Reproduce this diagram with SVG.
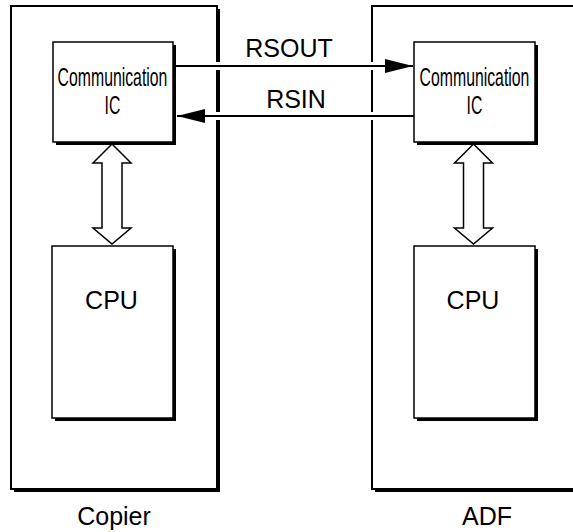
<svg xmlns="http://www.w3.org/2000/svg" width="573" height="532" viewBox="0 0 573 532">
  <style>
    .box { fill: #ffffff; stroke: #000000; stroke-width: 1.5; }
    .outer { fill: #ffffff; stroke: #000000; stroke-width: 2; }
    .shadow { fill: #000000; stroke: none; }
    .lbl { font-family: "Liberation Sans", Arial, sans-serif; fill: #000000; text-anchor: middle; }
    .big { font-size: 25px; }
    .narrow { font-size: 25.5px; }
    .dbl { fill: #ffffff; stroke: #000000; stroke-width: 1.5; stroke-linejoin: miter; }
    .wire { stroke: #000000; stroke-width: 2; fill: none; }
    .halo { stroke: #ffffff; stroke-width: 8; fill: none; }
  </style>
  <defs>
    <marker id="ah" viewBox="0 0 28 14" refX="28" refY="7" markerWidth="28" markerHeight="14" markerUnits="userSpaceOnUse" orient="auto">
      <path d="M0,0 L28,7 L0,14 Z" fill="#000000"/>
    </marker>
  </defs>

  <g id="copier">
    <rect class="shadow" x="14" y="9" width="206" height="483"/>
    <rect class="outer" x="11" y="6" width="206" height="483"/>
    <text class="lbl big" x="114" y="525">Copier</text>
  </g>
  <g id="adf">
    <rect class="shadow" x="375" y="9" width="230" height="483"/>
    <rect class="outer" x="372" y="6" width="230" height="483"/>
    <text class="lbl big" x="487" y="525">ADF</text>
  </g>

  <g id="copier-comm">
    <rect class="shadow" x="56" y="45" width="120" height="100"/>
    <rect class="box" x="53" y="42" width="120" height="100"/>
    <g transform="translate(112.5,0) scale(0.62,1)">
      <text class="lbl narrow" x="0" y="86">Communication</text>
      <text class="lbl narrow" x="0" y="114">IC</text>
    </g>
  </g>
  <g id="copier-cpu">
    <rect class="shadow" x="55" y="249" width="121" height="172"/>
    <rect class="box" x="52" y="246" width="121" height="172"/>
    <text class="lbl big" x="111.5" y="309">CPU</text>
  </g>
  <g id="adf-comm">
    <rect class="shadow" x="417" y="45" width="121" height="100"/>
    <rect class="box" x="414" y="42" width="121" height="100"/>
    <g transform="translate(474.5,0) scale(0.62,1)">
      <text class="lbl narrow" x="0" y="86">Communication</text>
      <text class="lbl narrow" x="0" y="114">IC</text>
    </g>
  </g>
  <g id="adf-cpu">
    <rect class="shadow" x="417" y="249" width="121" height="172"/>
    <rect class="box" x="414" y="246" width="121" height="172"/>
    <text class="lbl big" x="473" y="309">CPU</text>
  </g>

  <g id="connectors">
    <line class="halo" x1="200" y1="66" x2="390" y2="66"/>
    <line class="wire" x1="175" y1="66" x2="413" y2="66" marker-end="url(#ah)"/>
    <text class="lbl big" x="289" y="57">RSOUT</text>
    <line class="halo" x1="200" y1="116" x2="390" y2="116"/>
    <line class="wire" x1="414" y1="116" x2="177" y2="116" marker-end="url(#ah)"/>
    <text class="lbl big" x="296" y="108">RSIN</text>
    <path class="dbl" d="M112,144 L131,163 L122,163 L122,228 L131,228 L112,244 L93,228 L102,228 L102,163 L93,163 Z"/>
    <path class="dbl" d="M473.5,144 L492.5,163 L483.5,163 L483.5,228 L492.5,228 L473.5,244 L454.5,228 L463.5,228 L463.5,163 L454.5,163 Z"/>
  </g>
</svg>
